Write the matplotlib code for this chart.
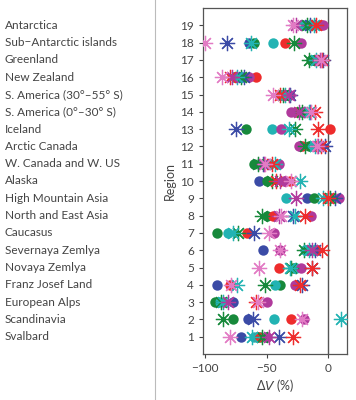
import numpy as np
import matplotlib
matplotlib.use("Agg")
import matplotlib.pyplot as plt
from matplotlib.transforms import blended_transform_factory

plt.rcParams['font.family'] = ['Lato', 'DejaVu Sans']

nan = np.nan
regions = ["Svalbard", "Scandinavia", "European Alps", "Franz Josef Land",
           "Novaya Zemlya", "Severnaya Zemlya", "Caucasus", "North and East Asia",
           "High Mountain Asia", "Alaska", "W. Canada and W. US", "Arctic Canada",
           "Iceland", "S. America (0°\u201330° S)", "S. America (30°\u201355° S)",
           "New Zealand", "Greenland", "Sub\u2212Antarctic islands", "Antarctica"]
region_ids = list(range(1, 20))

# circle series (regions 1..19)
circ_blue   = [-71, -65, -77, -90, nan, -53, nan, nan, -17, -56, nan, -23, nan, -18, -38, -70, -11, -64, -18]
circ_green  = [-55, -77, -92, -39, -29, -17, -90, -50, -12, -50, -60, -16, -67, -22, -33, -76, -14, -60, -14]
circ_cyan   = [-60, -44, -88, -43, -26, -19, -81, -43, -34, nan, -47, -13, -46, -20, -36, -72, -12, -45, -21]
circ_red    = [-57, -30, nan, -80, -40, -10, -66, -45, nan, -31, nan, -21, 1, -26, -40, -59, -9, -35, -6]
circ_purple = [-50, -20, -50, -27, -22, -39, -44, -14, 9, -36, -40, -24, -38, -30, -31, -64, -8, -22, -4]

# asterisk series (regions 1..19)
ast_blue   = [-40, -61, nan, -21, -13, -11, -60, -29, 5, nan, -53, -3, -75, -15, -31, -68, -4, -82, -15]
ast_green  = [-54, -85, -87, -51, -30, -20, -73, -54, 1, -46, -57, -19, -27, -21, -37, -71, -16, -28, -17]
ast_cyan   = [-62, 10, -85, -74, -31, -16, -77, -27, -4, -23, -43, -11, -32, -16, -35, -74, -10, -63, -12]
ast_red    = [-29, nan, -59, -23, -13, -5, nan, -19, -0.5, -42, -46, -6, -8, -11, -39, -80, -5, nan, -10]
ast_purple = [-48, nan, -81, nan, nan, -13, nan, -40, -26, -39, -52, -8, nan, -24, -32, -78, -7, nan, -26]
ast_pink   = [-80, -21, -57, -79, -56, -39, -48, -38, nan, -30, -51, -9, nan, -14, -45, -86, -6, -100, -29]

c_blue, c_green, c_cyan, c_red, c_purple, c_pink = "#3b4ba6", "#17893b", "#22b3b3", "#ee2c2c", "#b03a9c", "#e27bc4"

fig = plt.figure(figsize=(3.56, 4.0), dpi=100)
ax = fig.add_axes([0.570, 0.115, 0.405, 0.865])

circ = [(circ_blue, c_blue), (circ_green, c_green), (circ_cyan, c_cyan),
        (circ_red, c_red), (circ_purple, c_purple)]
asts = [(ast_blue, c_blue), (ast_green, c_green), (ast_cyan, c_cyan),
        (ast_red, c_red), (ast_purple, c_purple), (ast_pink, c_pink)]

for vals, col in circ:
    ax.plot(vals, region_ids, linestyle="none", marker="o", markersize=7.5,
            color=col, markeredgewidth=0, zorder=3)
for vals, col in asts:
    ax.plot(vals, region_ids, linestyle="none", marker=(8, 2, 0), markersize=11,
            color=col, markeredgewidth=0.9, zorder=4)
    ax.plot(vals, region_ids, linestyle="none", marker="o", markersize=2.5,
            color=col, markeredgewidth=0, zorder=4)

ax.axvline(0, color="#555555", lw=1.0, zorder=2)
ax.set_xlim(-101.6, 15.2)
ax.set_ylim(0, 20)
ax.set_yticks(region_ids)
ax.set_xticks([-100, -50, 0])
ax.set_xticklabels(["\u2212100", "\u221250", "0"])
ax.tick_params(axis="both", labelsize=8.5, colors="#444444", length=3, width=0.8)
for s in ax.spines.values():
    s.set_color("#555555")
    s.set_linewidth(0.9)
ax.set_xlabel("\u0394$V$ (%)", fontsize=9, color="#444444", labelpad=2)
ax.set_ylabel("Region", fontsize=9, color="#444444", labelpad=3)

tr = blended_transform_factory(fig.transFigure, ax.transData)
for y, name in zip(region_ids, regions):
    ax.text(0.014, y, name, transform=tr, fontsize=8.5, color="#444444",
            ha="left", va="center", clip_on=False)

fig.add_artist(plt.Line2D([0.435, 0.435], [0, 1], transform=fig.transFigure,
                          color="#bbbbbb", lw=0.8))

fig.savefig("out.png", dpi=100)
